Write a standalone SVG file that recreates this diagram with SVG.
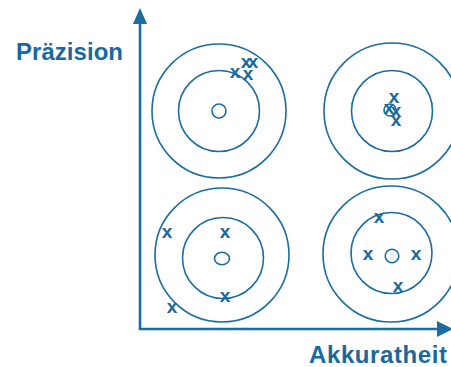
<svg xmlns="http://www.w3.org/2000/svg" width="451" height="367" viewBox="0 0 451 367">
<style>
.ring{fill:none;stroke:#1b6ca0;stroke-width:1.6}
.axis{fill:none;stroke:#1b6ca0;stroke-width:2.6}
.head{fill:#1b6ca0}
.lbl{font-family:"Liberation Sans",Arial,sans-serif;font-weight:bold;font-size:24px;fill:#1a699c}
.mk{font-family:"Liberation Sans",Arial,sans-serif;font-weight:bold;font-size:19px;fill:#1a699c;text-anchor:middle}
</style>
<rect width="451" height="367" fill="#ffffff"/>
<g id="connectors">
<polyline class="axis" points="140,20 140,329 440,329"/>
<polygon class="head" points="133,24 140,8 147,24"/>
<polygon class="head" points="437,321 453,329 437,337"/>
</g>
<g id="label-praezision"><text class="lbl" x="16" y="60" textLength="107" lengthAdjust="spacing">Präzision</text></g>
<g id="label-akkuratheit"><text class="lbl" x="309" y="363" textLength="138" lengthAdjust="spacing">Akkuratheit</text></g>
<g id="target-tl">
<circle class="ring" cx="219" cy="111" r="67"/>
<circle class="ring" cx="219" cy="111" r="40.5"/>
<circle class="ring" cx="219" cy="111" r="7"/>
<text class="mk" x="235" y="78">x</text>
<text class="mk" x="246" y="68">x</text>
<text class="mk" x="253" y="68">x</text>
<text class="mk" x="248" y="80">x</text>
</g>
<g id="target-tr">
<circle class="ring" cx="392" cy="111" r="68"/>
<circle class="ring" cx="392" cy="111" r="40.5"/>
<circle class="ring" cx="390" cy="110" r="6"/>
<text class="mk" x="394" y="103">x</text>
<text class="mk" x="389" y="114">x</text>
<text class="mk" x="396" y="117">x</text>
<text class="mk" x="396" y="126">x</text>
</g>
<g id="target-bl">
<circle class="ring" cx="222" cy="255" r="67"/>
<circle class="ring" cx="223" cy="258" r="40.5"/>
<ellipse class="ring" cx="222" cy="258.5" rx="7.5" ry="6.3"/>
<text class="mk" x="167" y="238">x</text>
<text class="mk" x="225" y="238">x</text>
<text class="mk" x="225" y="302">x</text>
<text class="mk" x="172" y="313">x</text>
</g>
<g id="target-br">
<circle class="ring" cx="391" cy="254" r="68"/>
<circle class="ring" cx="391.5" cy="253" r="40.5"/>
<circle class="ring" cx="392" cy="256" r="6.8"/>
<text class="mk" x="379" y="223">x</text>
<text class="mk" x="368" y="260">x</text>
<text class="mk" x="416" y="260">x</text>
<text class="mk" x="398" y="292">x</text>
</g>
</svg>
